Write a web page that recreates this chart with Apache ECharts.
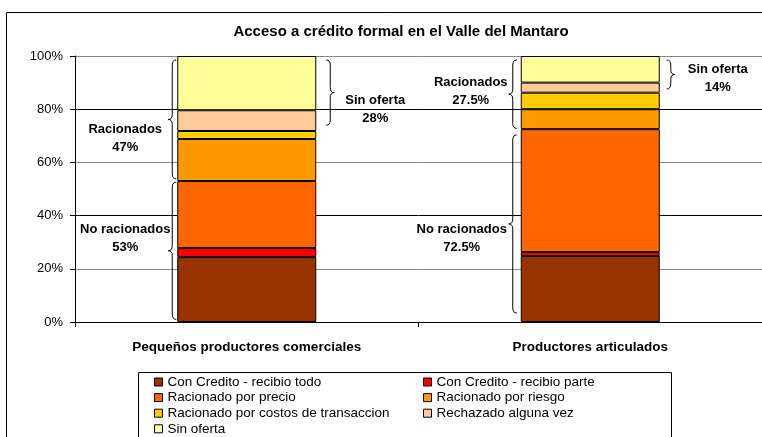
<!DOCTYPE html>
<html>
<head>
<meta charset="utf-8">
<script src="https://cdn.jsdelivr.net/npm/echarts@6/dist/echarts.min.js"></script>
<style>
  html, body { margin: 0; padding: 0; background: #fff; }
  #main { width: 762px; height: 437px; }
</style>
</head>
<body>
<div id="main"></div>
<script>
// categorias
var categorias = ['Pequeños productores comerciales', 'Productores articulados'];

// porcentajes por segmento (de abajo hacia arriba)
var conCreditoTodo   = [24.4, 24.8];
var conCreditoParte  = [3.4, 1.5];
var racPrecio        = [25.2, 46.2];
var racRiesgo        = [15.8, 7.5];
var racCostos        = [3.0, 6.2];
var rechazado        = [7.8, 3.8];
var sinOferta        = [20.4, 10.0];

var nombres = [
    'Con Credito - recibio todo', 'Con Credito - recibio parte',
    'Racionado por precio', 'Racionado por riesgo',
    'Racionado por costos de transaccion', 'Rechazado alguna vez',
    'Sin oferta'
];
var colores = ['#993300', '#FF0000', '#FF6600', '#FF9900', '#FFCC00', '#FFCC99', '#FFFF99'];
var valores = [conCreditoTodo, conCreditoParte, racPrecio, racRiesgo, racCostos, rechazado, sinOferta];

var yTicks = [0, 20, 40, 60, 80, 100];

// llaves: [categoria, desde, hasta, lado (-1 izq, 1 der), y del texto]
var llaves = [
    [0, 53.8, 98.5, -1, 69.2],
    [0, 1, 52.6, -1, 31.6],
    [0, 74, 98.5, 1, 80],
    [1, 72.8, 98.5, -1, 86.5],
    [1, 3.4, 70.3, -1, 31.6],
    [1, 87.6, 98.5, 1, 91.4]
];
var textosLlaves = [
    'Racionados\n47%', 'No racionados\n53%', 'Sin oferta\n28%',
    'Racionados\n27.5%', 'No racionados\n72.5%', 'Sin oferta\n14%'
];
// separacion de la barra y desplazamiento del texto (px)
var sepLlave = [1, 1, 10, 4, 4, 7];
var dxTexto = [-43, -43, 41, -38, -47, 43];

var FUENTE = 'Liberation Sans, Arial, sans-serif';
var anchoBarra = 139;

var myChart = echarts.init(document.getElementById('main'));

function pathLlave(x0, y1, y2, w) {
    // x0: lado plano, w: ancho con signo hacia la punta
    var xm = x0 + w / 2, xt = x0 + w;
    var m = (y1 + y2) / 2;
    var r = Math.min(5, (y2 - y1) / 4);
    return 'M' + x0 + ' ' + y1 +
        ' Q' + xm + ' ' + y1 + ' ' + xm + ' ' + (y1 + r) +
        ' L' + xm + ' ' + (m - r) +
        ' Q' + xm + ' ' + m + ' ' + xt + ' ' + m +
        ' Q' + xm + ' ' + m + ' ' + xm + ' ' + (m + r) +
        ' L' + xm + ' ' + (y2 - r) +
        ' Q' + xm + ' ' + y2 + ' ' + x0 + ' ' + y2;
}

var series = nombres.map(function (n, i) {
    return {
        name: n,
        type: 'bar',
        stack: 'total',
        barWidth: anchoBarra,
        data: valores[i],
        itemStyle: { color: colores[i], borderColor: '#000', borderWidth: 1 },
        emphasis: { disabled: true }
    };
});

series.push({
    type: 'custom',
    name: 'llaves',
    silent: true,
    z: 10,
    data: llaves.map(function (l, i) { return [l[0], l[1], l[2], l[3], l[4], i]; }),
    encode: { x: 0, y: 1 },
    renderItem: function (params, api) {
        var cat = api.value(0), lado = api.value(3), idx = api.value(5);
        var pTop = api.coord([cat, api.value(2)]);
        var pBot = api.coord([cat, api.value(1)]);
        var x0 = pTop[0] + lado * (anchoBarra / 2 + sepLlave[idx]);
        var w = lado * 8;
        var yTxt = api.coord([cat, api.value(4)])[1];
        return {
            type: 'group',
            children: [
                {
                    type: 'path',
                    shape: { pathData: pathLlave(x0, pTop[1], pBot[1], w) },
                    style: { fill: 'none', stroke: '#000', lineWidth: 1 }
                },
                {
                    type: 'text',
                    x: x0 + w + dxTexto[idx],
                    y: yTxt,
                    style: {
                        text: textosLlaves[idx],
                        align: 'center',
                        verticalAlign: 'middle',
                        font: 'bold 13px ' + FUENTE,
                        lineHeight: 18,
                        fill: '#000'
                    }
                }
            ]
        };
    }
});

var estiloLeyenda = { fontFamily: FUENTE, fontSize: 13.5, color: '#000', lineHeight: 14 };

myChart.setOption({
    animation: false,
    title: {
        text: 'Acceso a crédito formal en el Valle del Mantaro',
        left: 396,
        top: 19,
        textAlign: 'center',
        textStyle: { fontFamily: FUENTE, fontSize: 15, fontWeight: 'bold', color: '#000' }
    },
    legend: [
        {
            orient: 'vertical',
            left: 154,
            top: 375,
            padding: 0,
            itemWidth: 8,
            itemHeight: 8,
            itemGap: 1.6,
            icon: 'rect',
            data: [nombres[0], nombres[2], nombres[4], nombres[6]],
            itemStyle: { borderColor: '#000', borderWidth: 1 },
            textStyle: estiloLeyenda
        },
        {
            orient: 'vertical',
            left: 423,
            top: 375,
            padding: 0,
            itemWidth: 8,
            itemHeight: 8,
            itemGap: 1.6,
            icon: 'rect',
            data: [nombres[1], nombres[3], nombres[5]],
            itemStyle: { borderColor: '#000', borderWidth: 1 },
            textStyle: estiloLeyenda
        }
    ],
    grid: { left: 75, top: 56, width: 690, height: 266 },
    xAxis: {
        type: 'category',
        data: categorias,
        axisLine: { lineStyle: { color: '#000' } },
        axisTick: { show: true, length: 5, lineStyle: { color: '#000' } },
        axisLabel: { fontFamily: FUENTE, fontSize: 13.5, fontWeight: 'bold', color: '#000', margin: 18 }
    },
    yAxis: {
        type: 'value',
        min: yTicks[0],
        max: yTicks[yTicks.length - 1],
        interval: 20,
        axisLine: { show: true, lineStyle: { color: '#000' } },
        axisTick: { show: true, length: 5, lineStyle: { color: '#000' } },
        axisLabel: { formatter: '{value}%', fontFamily: FUENTE, fontSize: 13, color: '#000', margin: 12 },
        splitLine: { lineStyle: { color: ['#000', '#888'], width: 1 } }
    },
    graphic: [
        {
            type: 'rect',
            z: -10,
            shape: { x: 6.5, y: 12.5, width: 820, height: 520 },
            style: { fill: 'none', stroke: '#000', lineWidth: 1 }
        },
        {
            type: 'rect',
            z: -10,
            shape: { x: 138.5, y: 372.5, width: 533, height: 100 },
            style: { fill: 'none', stroke: '#000', lineWidth: 1 }
        }
    ],
    series: series
});
</script>
</body>
</html>
